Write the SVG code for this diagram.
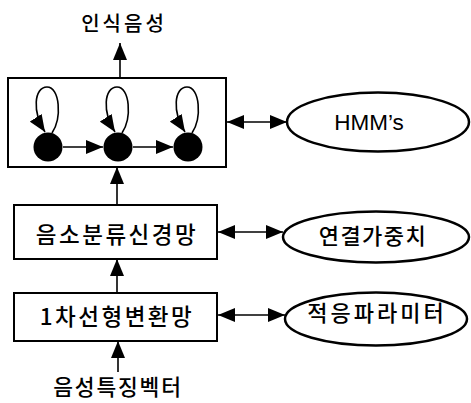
<svg xmlns="http://www.w3.org/2000/svg" width="471" height="403" viewBox="0 0 471 403">
<style>
.box{fill:#fff;stroke:#000;stroke-width:2}
.ell{fill:#fff;stroke:#000;stroke-width:2.5}
.ln{fill:none;stroke:#000;stroke-width:1.6}
.ko{font-family:"Noto Sans CJK KR","Noto Sans",sans-serif;font-weight:500;fill:#000;text-anchor:middle}
.en{font-family:"Liberation Sans",Arial,sans-serif;fill:#000;text-anchor:middle}
.st{fill:#000}
</style>
<defs>
<marker id="ah" markerUnits="userSpaceOnUse" markerWidth="17" markerHeight="14" refX="17" refY="7" orient="auto-start-reverse">
<path d="M0,0 L17,7 L0,14 z" fill="#000"/>
</marker>
</defs>
<rect width="471" height="403" fill="#fff"/>
<g id="top-box">
<rect class="box" x="8" y="78" width="218" height="89"/>
</g>
<g id="states">
<circle class="st" cx="48" cy="147" r="14.5"/>
<circle class="st" cx="118" cy="147" r="14.5"/>
<circle class="st" cx="188" cy="147" r="14.5"/>
</g>
<g id="phone-net">
<rect class="box" x="14" y="205" width="203" height="54"/>
<text class="ko" x="117" y="243" font-size="22.5" letter-spacing="2.5">음소분류신경망</text>
</g>
<g id="linear-net">
<rect class="box" x="14" y="293" width="203" height="48"/>
<text class="ko" x="117" y="325" font-size="22.5" letter-spacing="2.5">1차선형변환망</text>
</g>
<g id="hmm">
<ellipse class="ell" cx="378" cy="122" rx="91" ry="29.5"/>
<text class="en" x="369" y="130" font-size="22.5">HMM’s</text>
</g>
<g id="weights">
<ellipse class="ell" cx="376" cy="237" rx="93" ry="25.5"/>
<text class="ko" x="373" y="244" font-size="22" letter-spacing="1.5">연결가중치</text>
</g>
<g id="params">
<ellipse class="ell" cx="376" cy="319" rx="91" ry="26.5"/>
<text class="ko" x="377" y="321" font-size="22" letter-spacing="3">적응파라미터</text>
</g>
<g id="output-label">
<text class="ko" x="124" y="31" font-size="20" letter-spacing="3">인식음성</text>
</g>
<g id="input-label">
<text class="ko" x="118" y="395" font-size="21.5" letter-spacing="1.8">음성특징벡터</text>
</g>
<g id="connectors">
<line class="ln" x1="120" y1="78" x2="120" y2="43" marker-end="url(#ah)"/>
<line class="ln" x1="117" y1="205" x2="117" y2="167" marker-end="url(#ah)"/>
<line class="ln" x1="117" y1="293" x2="117" y2="259" marker-end="url(#ah)"/>
<line class="ln" x1="118" y1="372" x2="118" y2="341" marker-end="url(#ah)"/>
<line class="ln" x1="63" y1="147" x2="103" y2="147" marker-end="url(#ah)"/>
<line class="ln" x1="133" y1="147" x2="173" y2="147" marker-end="url(#ah)"/>
<line class="ln" x1="227" y1="122" x2="287" y2="122" marker-start="url(#ah)" marker-end="url(#ah)"/>
<line class="ln" x1="218" y1="232" x2="283" y2="232" marker-start="url(#ah)" marker-end="url(#ah)"/>
<line class="ln" x1="218" y1="315" x2="285" y2="315" marker-start="url(#ah)" marker-end="url(#ah)"/>
<path class="ln" d="M52,133 C62,118 60,87 47,87 C34,87 32,112 45,132" marker-end="url(#ah)"/>
<path class="ln" d="M122,133 C132,118 130,87 117,87 C104,87 102,112 115,132" marker-end="url(#ah)"/>
<path class="ln" d="M192,133 C202,118 200,87 187,87 C174,87 172,112 185,132" marker-end="url(#ah)"/>
</g>
</svg>
